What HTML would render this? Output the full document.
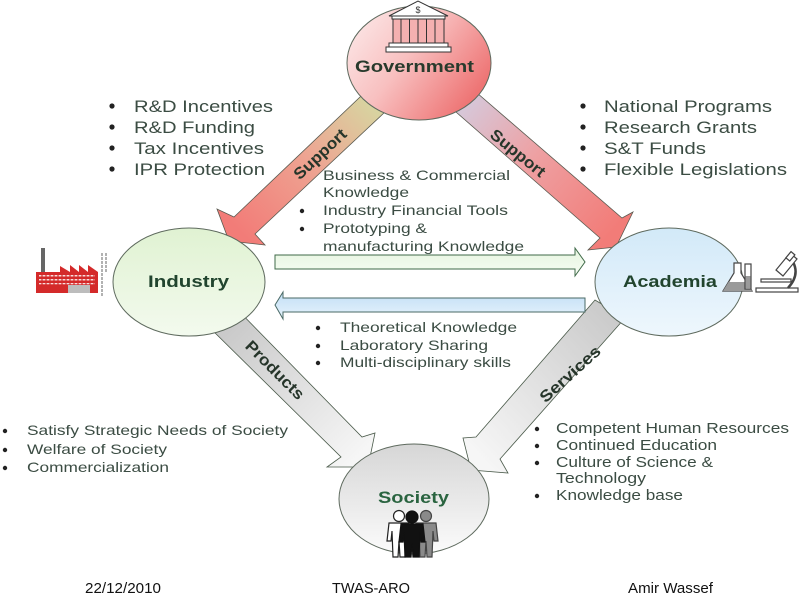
<!DOCTYPE html>
<html><head><meta charset="utf-8"><style>
html,body{margin:0;padding:0;background:#fff;}
svg{display:block;}
text{font-family:"Liberation Sans",Arial,sans-serif;}
</style></head><body>
<svg width="800" height="600" viewBox="0 0 800 600" xmlns="http://www.w3.org/2000/svg">
<defs>
<linearGradient id="gGov" x1="0" y1="0" x2="1" y2="0.6">
<stop offset="0" stop-color="#fdeeee"/><stop offset="0.5" stop-color="#f8c0c0"/><stop offset="1" stop-color="#ee7474"/></linearGradient>
<linearGradient id="gInd" x1="0" y1="0" x2="0" y2="1">
<stop offset="0" stop-color="#e0f2d2"/><stop offset="1" stop-color="#f3faee"/></linearGradient>
<linearGradient id="gAca" x1="0" y1="0" x2="0" y2="1">
<stop offset="0" stop-color="#d2e9f8"/><stop offset="1" stop-color="#eef7fd"/></linearGradient>
<linearGradient id="gSoc" x1="0" y1="0" x2="0" y2="1">
<stop offset="0" stop-color="#d6d6d6"/><stop offset="1" stop-color="#fbfbfb"/></linearGradient>
<linearGradient id="gSupL" gradientUnits="userSpaceOnUse" x1="371" y1="106" x2="240" y2="232">
<stop offset="0" stop-color="#d8d3a0"/><stop offset="0.45" stop-color="#eea492"/><stop offset="1" stop-color="#f27c78"/></linearGradient>
<linearGradient id="gSupR" gradientUnits="userSpaceOnUse" x1="461" y1="107" x2="610" y2="235">
<stop offset="0" stop-color="#d6c8da"/><stop offset="0.45" stop-color="#eea0a2"/><stop offset="1" stop-color="#f27c78"/></linearGradient>
<linearGradient id="gProd" gradientUnits="userSpaceOnUse" x1="232" y1="327" x2="360" y2="455">
<stop offset="0" stop-color="#cacaca"/><stop offset="1" stop-color="#f6f6f6"/></linearGradient>
<linearGradient id="gServ" gradientUnits="userSpaceOnUse" x1="624" y1="325" x2="480" y2="458">
<stop offset="0" stop-color="#cacaca"/><stop offset="1" stop-color="#f6f6f6"/></linearGradient>
<linearGradient id="gBlue" x1="0" y1="0" x2="0" y2="1">
<stop offset="0" stop-color="#c2def5"/><stop offset="1" stop-color="#e6f3fc"/></linearGradient>
<linearGradient id="gGreen" x1="0" y1="0" x2="0" y2="1">
<stop offset="0" stop-color="#e6f5e0"/><stop offset="1" stop-color="#f6fcf3"/></linearGradient>
</defs>

<!-- Bullet text blocks -->
<g fill="#3b4c43">
<text x="134" y="112" font-size="16.5" textLength="139" lengthAdjust="spacingAndGlyphs">R&amp;D Incentives</text>
<text x="134" y="133" font-size="16.5" textLength="121" lengthAdjust="spacingAndGlyphs">R&amp;D Funding</text>
<text x="134" y="154" font-size="16.5" textLength="130" lengthAdjust="spacingAndGlyphs">Tax Incentives</text>
<text x="134" y="175" font-size="16.5" textLength="131" lengthAdjust="spacingAndGlyphs">IPR Protection</text>

<text x="604" y="112" font-size="16.5" textLength="168" lengthAdjust="spacingAndGlyphs">National Programs</text>
<text x="604" y="133" font-size="16.5" textLength="153" lengthAdjust="spacingAndGlyphs">Research Grants</text>
<text x="604" y="154" font-size="16.5" textLength="102" lengthAdjust="spacingAndGlyphs">S&amp;T Funds</text>
<text x="604" y="175" font-size="16.5" textLength="183" lengthAdjust="spacingAndGlyphs">Flexible Legislations</text>

<text x="323" y="180" font-size="14" textLength="187" lengthAdjust="spacingAndGlyphs">Business &amp; Commercial</text>
<text x="323" y="197" font-size="14" textLength="86" lengthAdjust="spacingAndGlyphs">Knowledge</text>
<text x="323" y="215" font-size="14" textLength="185" lengthAdjust="spacingAndGlyphs">Industry Financial Tools</text>
<text x="323" y="233" font-size="14" textLength="104" lengthAdjust="spacingAndGlyphs">Prototyping &amp;</text>
<text x="323" y="251" font-size="14" textLength="201" lengthAdjust="spacingAndGlyphs">manufacturing Knowledge</text>

<text x="340" y="332" font-size="14" textLength="177" lengthAdjust="spacingAndGlyphs">Theoretical Knowledge</text>
<text x="340" y="350" font-size="14" textLength="148" lengthAdjust="spacingAndGlyphs">Laboratory Sharing</text>
<text x="340" y="367" font-size="14" textLength="171" lengthAdjust="spacingAndGlyphs">Multi-disciplinary skills</text>

<text x="27" y="435" font-size="14" textLength="261" lengthAdjust="spacingAndGlyphs">Satisfy Strategic Needs of Society</text>
<text x="27" y="454" font-size="14" textLength="140" lengthAdjust="spacingAndGlyphs">Welfare of Society</text>
<text x="27" y="472" font-size="14" textLength="142" lengthAdjust="spacingAndGlyphs">Commercialization</text>

<text x="556" y="433" font-size="14.5" textLength="233" lengthAdjust="spacingAndGlyphs">Competent Human Resources</text>
<text x="556" y="450" font-size="14.5" textLength="161" lengthAdjust="spacingAndGlyphs">Continued Education</text>
<text x="556" y="467" font-size="14.5" textLength="157" lengthAdjust="spacingAndGlyphs">Culture of Science &amp;</text>
<text x="556" y="483" font-size="14.5" textLength="90" lengthAdjust="spacingAndGlyphs">Technology</text>
<text x="556" y="500" font-size="14.5" textLength="127" lengthAdjust="spacingAndGlyphs">Knowledge base</text>
</g>
<g fill="#222">
<circle cx="112" cy="106" r="2.6"/><circle cx="112" cy="127" r="2.6"/><circle cx="112" cy="148" r="2.6"/><circle cx="112" cy="169" r="2.6"/>
<circle cx="583" cy="106" r="2.6"/><circle cx="583" cy="127" r="2.6"/><circle cx="583" cy="148" r="2.6"/><circle cx="583" cy="169" r="2.6"/>
<circle cx="302" cy="175" r="2.2"/><circle cx="302" cy="211" r="2.2"/><circle cx="302" cy="229" r="2.2"/>
<circle cx="318" cy="328" r="2.2"/><circle cx="318" cy="346" r="2.2"/><circle cx="318" cy="363" r="2.2"/>
<circle cx="5" cy="431" r="2.2"/><circle cx="5" cy="450" r="2.2"/><circle cx="5" cy="468" r="2.2"/>
<circle cx="537" cy="429" r="2.2"/><circle cx="537" cy="446" r="2.2"/><circle cx="537" cy="463" r="2.2"/><circle cx="537" cy="496" r="2.2"/>
</g>

<!-- Support arrows -->
<polygon points="380,78 234,217 217,209 229,241 265,245 255,234 402,96" fill="url(#gSupL)" stroke="#5a5a50" stroke-width="0.8"/>
<polygon points="462,80 622,218 633,212 616,247 588,250 600,238 440,98" fill="url(#gSupR)" stroke="#5a5a50" stroke-width="0.8"/>
<!-- Products / Services -->
<polygon points="228,300 362,437 375,433 368,467 327,467 341,457 204,322" fill="url(#gProd)" stroke="#4a5a4a" stroke-width="0.8"/>
<polygon points="595,300 476,437 463,438 471,470 508,473 500,459 625,318" fill="url(#gServ)" stroke="#4a5a4a" stroke-width="0.8"/>

<!-- horizontal arrows -->
<polygon points="275,255 575,255 575,248 585,262 575,276 575,269 275,269" fill="url(#gGreen)" stroke="#3f6a48" stroke-width="1"/>
<polygon points="585,298 283,298 283,292 275,305 283,319 283,312 585,312" fill="url(#gBlue)" stroke="#4a6a66" stroke-width="1"/>

<!-- band labels -->
<g font-weight="bold" font-size="16" fill="#26352a" text-anchor="middle">
<text transform="translate(320,154) rotate(-43)" dy="5.5" textLength="66" lengthAdjust="spacingAndGlyphs">Support</text>
<text transform="translate(518,153) rotate(39)" dy="5.5" textLength="66" lengthAdjust="spacingAndGlyphs">Support</text>
<text transform="translate(275,370) rotate(45)" dy="5.5" textLength="76" lengthAdjust="spacingAndGlyphs">Products</text>
<text transform="translate(570,374) rotate(-42)" dy="5.5" textLength="76" lengthAdjust="spacingAndGlyphs">Services</text>
</g>

<!-- Ellipses -->
<ellipse cx="419" cy="63" rx="72" ry="57" fill="url(#gGov)" stroke="#5e6a5e" stroke-width="1"/>
<ellipse cx="189" cy="282" rx="76" ry="54" fill="url(#gInd)" stroke="#5e6a5e" stroke-width="1"/>
<ellipse cx="669" cy="282" rx="74" ry="54" fill="url(#gAca)" stroke="#5e6a5e" stroke-width="1"/>
<ellipse cx="414" cy="499" rx="75" ry="55" fill="url(#gSoc)" stroke="#5e6a5e" stroke-width="1"/>

<g font-weight="bold" font-size="17" fill="#21442e">
<text x="355" y="72" textLength="119" lengthAdjust="spacingAndGlyphs" fill="#283a2c">Government</text>
<text x="148" y="287" textLength="81" lengthAdjust="spacingAndGlyphs">Industry</text>
<text x="623" y="287" textLength="94" lengthAdjust="spacingAndGlyphs">Academia</text>
<text x="378" y="503" textLength="71" lengthAdjust="spacingAndGlyphs" fill="#2a6440">Society</text>
</g>

<!-- Government building -->
<g stroke="#333" stroke-width="1">
<polygon points="389,16 418,1 448,16" fill="#fff"/>
<rect x="392" y="16" width="53" height="3" fill="#fff"/>
<rect x="393" y="19" width="51" height="24" fill="#f4b0b0"/>
<line x1="401" y1="19" x2="401" y2="43"/><line x1="409.5" y1="19" x2="409.5" y2="43"/>
<line x1="418" y1="19" x2="418" y2="43"/><line x1="426.5" y1="19" x2="426.5" y2="43"/>
<line x1="435" y1="19" x2="435" y2="43"/>
<rect x="389" y="43" width="59" height="4" fill="#fff"/>
<rect x="386" y="47" width="65" height="5" fill="#fff"/>
</g>
<text x="418" y="13" font-size="9" text-anchor="middle" fill="#333">$</text>

<!-- Factory -->
<g>
<rect x="41" y="248" width="4" height="24" fill="#666"/>
<polygon points="36,272 60,272 60,266 70,272 70,265 79,272 79,265 88,272 88,265 98,272 98,292 36,292" fill="#d42a2a"/>
<rect x="36" y="285" width="62" height="8" fill="#d42a2a"/>
<rect x="68" y="285" width="22" height="8" fill="#bdbdbd"/>
<g fill="#fff" opacity="0.85">
<rect x="39" y="275" width="56" height="1.5"/><rect x="39" y="279" width="56" height="1.5"/><rect x="39" y="283" width="56" height="1.3"/>
</g>
<g stroke="#d42a2a" stroke-width="1.2">
<line x1="42" y1="274" x2="42" y2="285"/><line x1="46" y1="274" x2="46" y2="285"/><line x1="50" y1="274" x2="50" y2="285"/>
<line x1="54" y1="274" x2="54" y2="285"/><line x1="58" y1="274" x2="58" y2="285"/><line x1="62" y1="274" x2="62" y2="285"/>
<line x1="66" y1="274" x2="66" y2="285"/><line x1="70" y1="274" x2="70" y2="285"/><line x1="74" y1="274" x2="74" y2="285"/>
<line x1="78" y1="274" x2="78" y2="285"/><line x1="82" y1="274" x2="82" y2="285"/><line x1="86" y1="274" x2="86" y2="285"/>
<line x1="90" y1="274" x2="90" y2="285"/><line x1="94" y1="274" x2="94" y2="285"/>
</g>
<line x1="102" y1="253" x2="102" y2="297" stroke="#999" stroke-width="1.5" stroke-dasharray="3,1"/>
<line x1="106" y1="253" x2="106" y2="272" stroke="#999" stroke-width="1.5" stroke-dasharray="3,1"/>
</g>

<!-- Lab icons -->
<g stroke="#444" stroke-width="1.2" fill="#fff">
<path d="M734,263 L741,263 L741,273 L752,291 L723,291 L734,273 Z"/>
<polygon points="728.5,282 746.5,282 752,291 723,291" fill="#9a9a9a" stroke="none"/>
<rect x="745" y="264" width="6" height="25" fill="#fff"/>
<rect x="745.5" y="276" width="5" height="12" fill="#9a9a9a" stroke="none"/>
<rect x="756" y="288" width="42" height="4"/>
<rect x="761" y="279" width="30" height="3"/>
<path d="M788,288 Q800,275 793,262" fill="none" stroke-width="2.5"/>
<polygon points="776,270 783,276 797,259 790,253" />
<rect x="786" y="254" width="8" height="5" transform="rotate(-50 790 256)"/>
</g>

<!-- People -->
<g stroke-width="1.2">
<g transform="translate(399,510)" fill="#fff" stroke="#222">
<circle cx="0" cy="6" r="5.5"/>
<path d="M-10,13 L10,13 L12,31 L8,31 L7,21 L6,47 L1,47 L0,31 L-1,47 L-6,47 L-7,21 L-8,31 L-12,31 Z"/>
</g>
<g transform="translate(426,510)" fill="#8a8a8a" stroke="#444">
<circle cx="0" cy="6" r="5.5"/>
<path d="M-10,13 L10,13 L12,31 L8,31 L7,21 L6,47 L1,47 L0,31 L-1,47 L-6,47 L-7,21 L-8,31 L-12,31 Z"/>
</g>
<g transform="translate(412,511)" fill="#111" stroke="#111">
<circle cx="0" cy="6" r="6"/>
<path d="M-11,13 L11,13 L13,31 L9,31 L8,21 L7,46 L1,46 L0,32 L-1,46 L-7,46 L-8,21 L-9,31 L-13,31 Z"/>
</g>
</g>

<!-- Footer -->
<g font-size="15" fill="#111">
<text x="85" y="593" textLength="76" lengthAdjust="spacingAndGlyphs">22/12/2010</text>
<text x="332" y="593" textLength="78" lengthAdjust="spacingAndGlyphs">TWAS-ARO</text>
<text x="628" y="593" textLength="85" lengthAdjust="spacingAndGlyphs">Amir Wassef</text>
</g>
</svg>
</body></html>
